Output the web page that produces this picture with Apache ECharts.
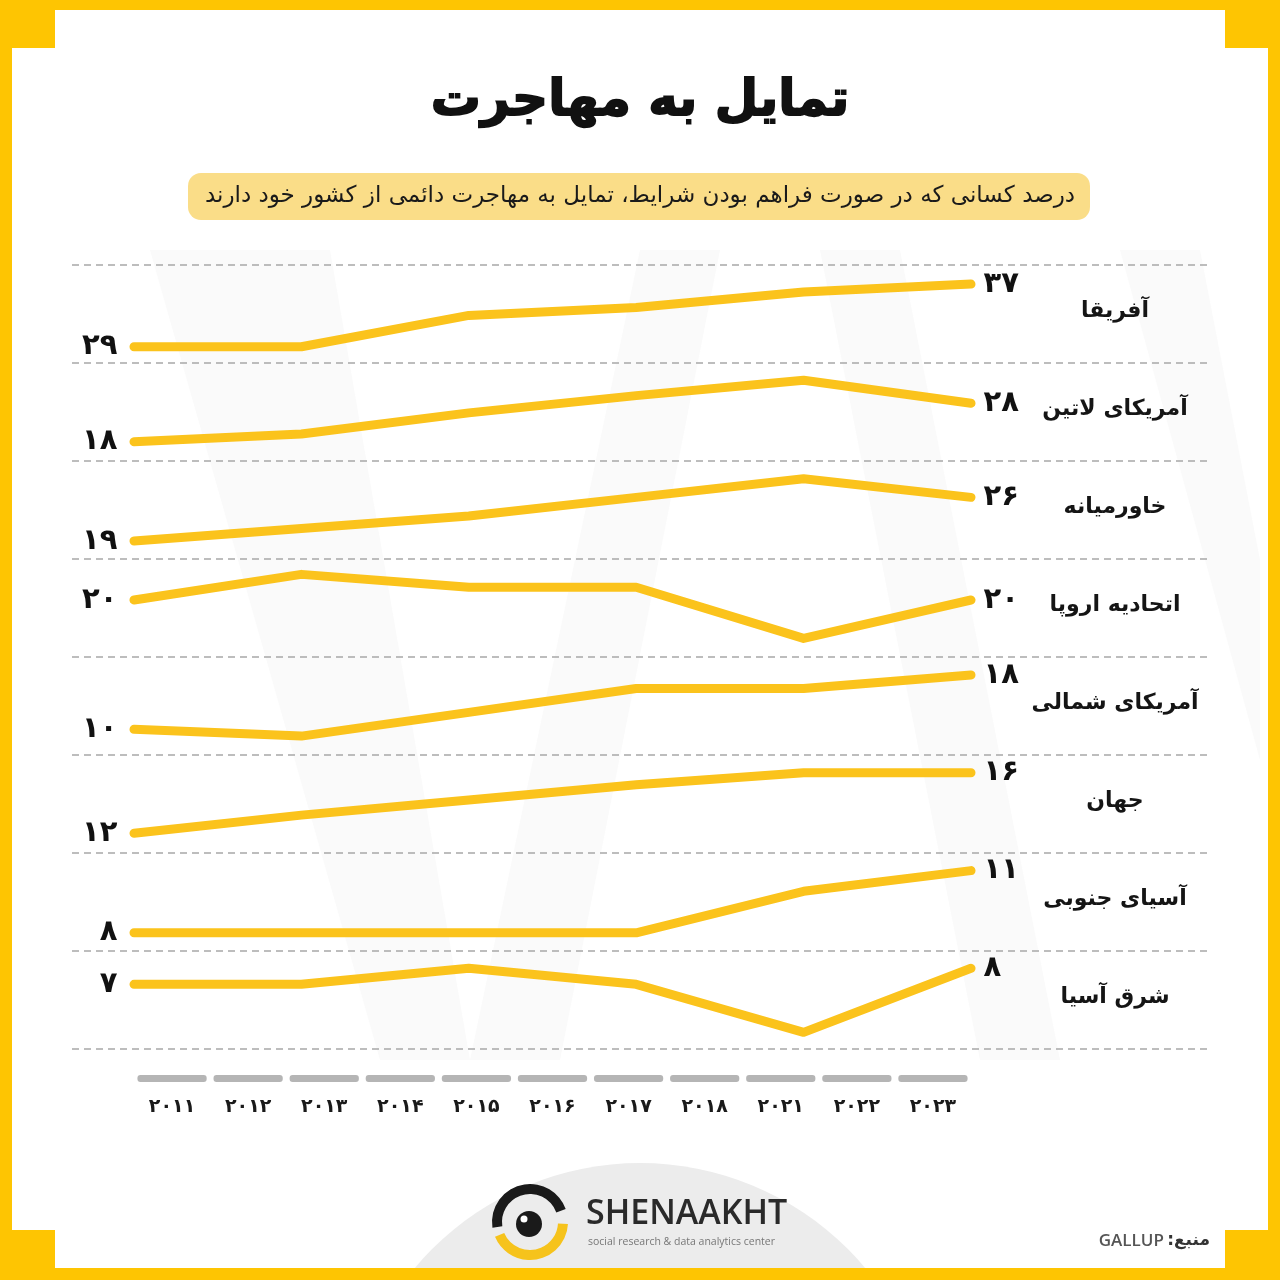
<!DOCTYPE html>
<html>
<head>
<meta charset="utf-8">
<script src="https://cdn.jsdelivr.net/npm/echarts@6/dist/echarts.min.js"></script>
<style>
html,body{margin:0;padding:0;background:#fff;}
#chart{width:1280px;height:1280px;}
</style>
</head>
<body>
<div id="chart"></div>
<script>
// ---- data ----
const years = ['۲۰۱۱','۲۰۱۲','۲۰۱۳','۲۰۱۴','۲۰۱۵','۲۰۱۶','۲۰۱۷','۲۰۱۸','۲۰۲۱','۲۰۲۲','۲۰۲۳'];
const regions = ['آفریقا','آمریکای لاتین','خاورمیانه','اتحادیه اروپا','آمریکای شمالی','جهان','آسیای جنوبی','شرق آسیا'];
const africa       = [29, null, 29, null, 33, null, 34, null, 36, null, 37];
const latinAmerica = [18, null, 20, null, 25.5, null, 30, null, 34, null, 28];
const middleEast   = [19, null, 21, null, 23, null, 26, null, 29, null, 26];
const europeanUnion= [20, null, 24, null, 22, null, 22, null, 14, null, 20];
const northAmerica = [10, null, 9, null, 12.5, null, 16, null, 16, null, 18];
const world        = [12, null, 13.2, null, 14.2, null, 15.2, null, 16, null, 16];
const southAsia    = [8, null, 8, null, 8, null, 8, null, 10, null, 11];
const eastAsia     = [7, null, 7, null, 8, null, 7, null, 4, null, 8];
// per-row axis ranges (scale of each small panel)
const axisMin = [26.92, 12.97, 16.12, 11.1, 6.22, 10.7, 7.12, 2.96];
const axisMax = [39.44, 38.49, 31.83, 26.4, 20.65, 17.17, 11.85, 9.08];

const titleText = 'تمایل به مهاجرت';
const subtitleText = 'درصد کسانی که در صورت فراهم بودن شرایط، تمایل به مهاجرت دائمی از کشور خود دارند';
const sourceLabel = 'منبع';
const sourceName = 'GALLUP';

// ---- layout / style ----
const seriesValues = [africa, latinAmerica, middleEast, europeanUnion, northAmerica, world, southAsia, eastAsia];
const FA = 'DejaVu Sans';
const YELLOW = '#fec502';
const LINE = '#fbc31c';
const BAND_TOP = 265, BAND_H = 98;
const PLOT_LEFT = 134, PLOT_RIGHT = 309;
const toFa = v => String(v).replace(/\d/g, d => '۰۱۲۳۴۵۶۷۸۹'[d]);

const grids = [], xAxes = [], yAxes = [], series = [];
const labelStyle = {fontFamily: FA, fontWeight: 'bold', fontSize: 29, color: '#111',
  formatter: p => toFa(p.value)};

seriesValues.forEach((vals, i) => {
  grids.push({left: PLOT_LEFT, right: PLOT_RIGHT, top: BAND_TOP + BAND_H * i, height: BAND_H});
  xAxes.push({type: 'category', gridIndex: i, data: years, boundaryGap: false, show: false});
  yAxes.push({type: 'value', gridIndex: i, min: axisMin[i], max: axisMax[i], show: false});
  const last = vals.length - 1;
  series.push({
    type: 'line', xAxisIndex: i, yAxisIndex: i, connectNulls: true, silent: true,
    symbol: 'circle', symbolSize: 1, showAllSymbol: true, clip: false,
    lineStyle: {color: LINE, width: 9, cap: 'round', join: 'round'},
    itemStyle: {color: LINE},
    data: vals.map((v, j) => {
      if (j === 0) return {value: v, label: Object.assign({show: true, position: 'left', distance: 16}, labelStyle)};
      if (j === last) return {value: v, label: Object.assign({show: true, position: 'right', distance: 12}, labelStyle)};
      return v;
    })
  });
});

// band separator grid (dashed lines)
const gBand = grids.length;
grids.push({left: 72, right: 70, top: BAND_TOP, height: BAND_H * seriesValues.length});
xAxes.push({type: 'value', gridIndex: gBand, show: false, min: 0, max: 1});
yAxes.push({type: 'value', gridIndex: gBand, min: 0, max: seriesValues.length, interval: 1,
  axisLine: {show: false}, axisTick: {show: false}, axisLabel: {show: false},
  splitLine: {show: true, showMinLine: true, showMaxLine: true,
    lineStyle: {color: '#a8a8a8', width: 1.5, type: [7, 5]}}});

// x axis bars + year labels
const gX = grids.length;
grids.push({left: PLOT_LEFT, right: PLOT_RIGHT, top: 1075, height: 7});
xAxes.push({type: 'category', gridIndex: gX, data: years, boundaryGap: true,
  axisLine: {show: false}, axisTick: {show: false},
  axisLabel: {show: true, margin: 16, fontFamily: FA, fontWeight: 'bold', fontSize: 19, color: '#1a1a1a'}});
yAxes.push({type: 'value', gridIndex: gX, min: 0, max: 1, show: false});
series.push({type: 'bar', xAxisIndex: gX, yAxisIndex: gX, silent: true, barWidth: '91%',
  itemStyle: {color: '#b5b5b5', borderRadius: 3},
  data: years.map(() => 1)});

// graphics
const graphics = [];
// very faint background pattern
const pat = '#fafafa';
[[150,250,330,250,470,1060,380,1060],[470,1060,560,1060,720,250,640,250],
 [820,250,900,250,1060,1060,980,1060],[1120,250,1200,250,1260,560,1260,760]].forEach(p => {
  graphics.push({type: 'polygon', z: -10, shape: {points: [[p[0],p[1]],[p[2],p[3]],[p[4],p[5]],[p[6],p[7]]]},
    style: {fill: pat}});
});
// gray half circle behind logo
graphics.push({type: 'circle', z: -5, shape: {cx: 640, cy: 1457, r: 294}, style: {fill: '#ececec'}});
// subtitle box
graphics.push({type: 'rect', z: 1, shape: {x: 188, y: 173, width: 902, height: 47, r: 13}, style: {fill: '#fadd88'}});
graphics.push({type: 'text', z: 2, style: {text: subtitleText, x: 640, y: 196, align: 'center', verticalAlign: 'middle',
  font: '23px "DejaVu Sans"', fill: '#1a1a1a'}});
// title
graphics.push({type: 'text', z: 2, style: {text: titleText, x: 640, y: 102, align: 'center', verticalAlign: 'middle',
  font: 'bold 50px "DejaVu Sans"', fill: '#111', stroke: '#111', lineWidth: 1.8}});
// region names
regions.forEach((r, i) => {
  graphics.push({type: 'text', z: 2, style: {text: r, x: 1115, y: BAND_TOP + BAND_H * i + BAND_H / 2 - 3,
    align: 'center', verticalAlign: 'middle', font: 'bold 22px "DejaVu Sans"', fill: '#151515'}});
});
// logo
graphics.push({type: 'sector', z: 3, shape: {cx: 530, cy: 1222, r: 38, r0: 28, startAngle: Math.PI - 0.15, endAngle: 2 * Math.PI - 0.35, clockwise: true},
  style: {fill: '#1a1a1a'}});
graphics.push({type: 'sector', z: 3, shape: {cx: 530, cy: 1222, r: 38, r0: 28, startAngle: 0.05, endAngle: Math.PI - 0.4, clockwise: true},
  style: {fill: '#f6c31c'}});
graphics.push({type: 'circle', z: 3, shape: {cx: 529, cy: 1224, r: 13}, style: {fill: '#1a1a1a'}});
graphics.push({type: 'circle', z: 4, shape: {cx: 524, cy: 1219, r: 3.5}, style: {fill: '#fff'}});
graphics.push({type: 'text', z: 3, style: {text: 'SHENAAKHT', x: 586, y: 1214, align: 'left', verticalAlign: 'middle',
  font: '600 34px "Open Sans"', fill: '#2a2a2a'}});
graphics.push({type: 'text', z: 3, style: {text: 'social research & data analytics center', x: 588, y: 1242, align: 'left', verticalAlign: 'middle',
  font: '10.5px "Open Sans"', fill: '#777'}});
// source (tokens in visual order: GALLUP  :منبع)
graphics.push({type: 'text', z: 3, style: {
  text: '{n|' + sourceName + '} {b|:}{b|' + sourceLabel + '}', x: 1210, y: 1241, align: 'right', verticalAlign: 'middle',
  rich: {n: {fontFamily: 'Open Sans', fontSize: 17, fontWeight: 600, fill: '#555', color: '#555'},
         b: {fontFamily: FA, fontSize: 17, fontWeight: 'bold', fill: '#333', color: '#333'}}}});
// yellow frame
[[0,0,1280,10],[0,1268,1280,12],[0,0,12,1280],[1268,0,12,1280],
 [0,0,55,48],[1225,0,55,48],[0,1230,55,50],[1225,1230,55,50]].forEach(r => {
  graphics.push({type: 'rect', z: 20, shape: {x: r[0], y: r[1], width: r[2], height: r[3]}, style: {fill: YELLOW}});
});

const chart = echarts.init(document.getElementById('chart'), null, {renderer: 'canvas'});
chart.setOption({
  backgroundColor: '#ffffff',
  animation: false,
  grid: grids, xAxis: xAxes, yAxis: yAxes, series: series,
  graphic: {elements: graphics}
});
</script>
</body>
</html>
